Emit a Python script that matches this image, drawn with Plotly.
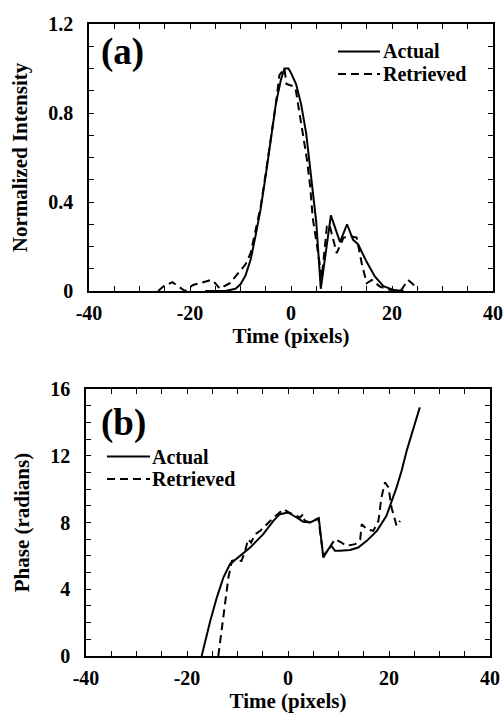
import plotly.graph_objects as go

# ---------------- data ----------------
# Panel (a): normalized intensity vs time (pixels)
a_actual_t = [-17, -13, -11, -10, -9, -8, -7, -6, -5, -4, -3, -2, -1.3, -0.5, 0, 1, 2, 3, 4, 5,
              5.9, 7.9, 9.7, 11.1, 12.3, 13.3, 15.0, 16.6, 18.3, 20.3, 22.3]
a_actual_i = [0, 0, 0.01, 0.03, 0.07, 0.14, 0.25, 0.37, 0.52, 0.68, 0.84, 0.95, 1.0, 1.0, 0.98, 0.93,
              0.84, 0.71, 0.52, 0.31, 0.01, 0.34, 0.22, 0.30, 0.23, 0.21, 0.13, 0.065, 0.022, 0.005, 0]

a_retr_t = [-26.3, -25.3, -23.5, -21, -19.4, -17.4, -15.7, -15.0, -14.1, -12.1, -10.4, -9, -8, -7, -6,
            -5, -4, -3, -2.3, -1.3, -0.9, 0.5, 0.9, 2.1, 3.1, 3.8, 4.3, 6.1, 6.4, 7.1, 7.6, 9.05,
            10.4, 12.0, 13.0, 14.0, 15.0, 16.0, 17.6, 19.6, 21.7, 23.2, 25.2]
a_retr_i = [0, 0.02, 0.04, 0, 0.027, 0.04, 0.05, 0.035, 0.01, 0.035, 0.08, 0.12, 0.17, 0.27, 0.38,
            0.53, 0.68, 0.84, 0.97, 1.0, 0.93, 0.92, 0.91, 0.73, 0.60, 0.47, 0.33, 0.06, 0.14, 0.29,
            0.30, 0.17, 0.24, 0.245, 0.24, 0.125, 0.035, 0.05, 0.02, 0.005, 0, 0.05, 0.01]

# Panel (b): phase (radians) vs time (pixels)
b_actual_t = [-17.1, -15.4, -14.1, -12.8, -11.5, -9.5, -7.5, -4.9, -2.9, -1.6, 0, 1.7, 3.0, 4.4, 6.1,
              7.0, 8.0, 8.6, 9.3, 10.3, 12.3, 13.9, 15.6, 17.6, 19.5, 21.5, 22.5, 23.5, 24.5, 25.3, 26.1]
b_actual_p = [0, 2.1, 3.5, 4.7, 5.5, 6.0, 6.5, 7.3, 8.1, 8.5, 8.6, 8.3, 8.05, 8.0, 8.25,
              5.9, 6.4, 6.6, 6.3, 6.3, 6.35, 6.5, 6.9, 7.5, 8.4, 10.1, 11.1, 12.3, 13.3, 14.1, 14.9]

b_retr_t = [-13.8, -12.8, -11.8, -11.1, -10.5, -9.2, -8.5, -7.9, -7.3, -6.5, -5.5, -3.5, -2, -0.9, 0.2,
            2.4, 3.0, 3.3, 4.4, 6.0, 7.0, 8.0, 9.3, 10.6, 11.5, 13.3, 14.3, 14.6, 15.6, 16.9, 17.9,
            18.5, 19.2, 19.9, 20.5, 21.5, 22.2]
b_retr_p = [0, 2.5, 4.7, 5.7, 5.75, 5.7, 6.3, 7.0, 6.8, 7.3, 7.5, 8.1, 8.5, 8.8, 8.6,
            8.3, 8.5, 8.1, 8.0, 8.25, 6.0, 6.4, 7.0, 6.8, 6.6, 6.7, 7.0, 7.9, 7.6, 7.5, 8.1,
            9.5, 10.4, 10.1, 8.9, 7.8, 8.1]

x_ticks = list(range(-40, 41, 5))
x_ticktext = [str(v) if v % 20 == 0 else "" for v in x_ticks]
a_yticks = [round(0.1 * k, 1) for k in range(0, 13)]
a_yticktext = ["0", "", "", "", "0.4", "", "", "", "0.8", "", "", "", "1.2"]
b_yticks = list(range(0, 17))
b_yticktext = [str(v) if v % 4 == 0 else "" for v in b_yticks]

series_names = ["Actual", "Retrieved"]
panel_labels = ["(a)", "(b)"]

# ---------------- figure ----------------
FONT = "Liberation Serif"
W, H = 504, 713
DASH = "8px,5px"
line_solid = dict(color="black", width=2)
line_dash = dict(color="black", width=2, dash=DASH)

fig = go.Figure()
fig.add_trace(go.Scatter(x=a_actual_t, y=a_actual_i, mode="lines", name=series_names[0],
                         line=line_solid, xaxis="x", yaxis="y"))
fig.add_trace(go.Scatter(x=a_retr_t, y=a_retr_i, mode="lines", name=series_names[1],
                         line=line_dash, xaxis="x", yaxis="y"))
fig.add_trace(go.Scatter(x=b_actual_t, y=b_actual_p, mode="lines", name=series_names[0],
                         line=line_solid, xaxis="x2", yaxis="y2"))
fig.add_trace(go.Scatter(x=b_retr_t, y=b_retr_p, mode="lines", name=series_names[1],
                         line=line_dash, xaxis="x2", yaxis="y2"))

tickfont = dict(family=FONT, size=20, color="black", weight="bold")
titlefont = dict(family=FONT, size=21, color="black", weight="bold")


def xax(domain, anchor, standoff):
    return dict(domain=domain, anchor=anchor, range=[-40, 40], tickmode="array",
                tickvals=x_ticks, ticktext=x_ticktext, ticks="inside", ticklen=5,
                tickwidth=1, tickcolor="black", showline=True, linewidth=1.5,
                linecolor="black", mirror="ticks", showgrid=False, zeroline=False,
                automargin=False, ticklabelstandoff=3, tickfont=tickfont,
                title=dict(text="Time (pixels)", font=titlefont, standoff=standoff))


def yax(domain, anchor, rng, tv, tt, title, standoff):
    return dict(domain=domain, anchor=anchor, range=rng, tickmode="array",
                tickvals=tv, ticktext=tt, ticks="inside", ticklen=5, tickwidth=1,
                tickcolor="black", showline=True, linewidth=1.5, linecolor="black",
                mirror="ticks", showgrid=False, zeroline=False, automargin=False,
                ticklabelstandoff=10, tickfont=tickfont,
                title=dict(text=title, font=titlefont, standoff=standoff))


legfont = dict(family=FONT, size=20, color="black", weight="bold")
labfont = dict(family=FONT, size=37, color="black", weight="bold")

# hand-drawn legends (sample line + label) to match the tight original layout
legend_specs = [
    # (x0, x1, y_solid, y_dash, text_x) in pixels
    (338, 380, 51.5, 74.0, 382),
    (107, 150, 456.5, 479.0, 151),
]
shapes = []
annotations = []
for x0, x1, ys, yd, tx in legend_specs:
    shapes.append(dict(type="line", xref="paper", yref="paper", x0=x0 / W, x1=x1 / W,
                       y0=1 - ys / H, y1=1 - ys / H, line=dict(color="black", width=2)))
    shapes.append(dict(type="line", xref="paper", yref="paper", x0=x0 / W, x1=x1 / W,
                       y0=1 - yd / H, y1=1 - yd / H,
                       line=dict(color="black", width=2, dash=DASH)))
    for name, yy in zip(series_names, (ys, yd)):
        annotations.append(dict(text=name, x=tx / W, y=1 - yy / H, xref="paper", yref="paper",
                                xanchor="left", yanchor="middle", showarrow=False,
                                borderpad=0, font=legfont))

annotations.append(dict(text=panel_labels[0], x=122 / W, y=1 - 52 / H, xref="paper",
                        yref="paper", xanchor="center", yanchor="middle", showarrow=False,
                        font=labfont))
annotations.append(dict(text=panel_labels[1], x=123 / W, y=1 - 423 / H, xref="paper",
                        yref="paper", xanchor="center", yanchor="middle", showarrow=False,
                        font=labfont))

fig.update_layout(
    width=W, height=H,
    margin=dict(l=0, r=0, t=0, b=0),
    paper_bgcolor="white", plot_bgcolor="white",
    showlegend=False,
    xaxis=xax([89 / W, 493 / W], "y", 3),
    yaxis=yax([1 - 291 / H, 1 - 24 / H], "x", [0, 1.2], a_yticks, a_yticktext,
              "Normalized Intensity", 15),
    xaxis2=xax([86 / W, 490 / W], "y2", 4),
    yaxis2=yax([1 - 656 / H, 1 - 389 / H], "x2", [0, 16], b_yticks, b_yticktext,
               "Phase (radians)", 15),
    shapes=shapes,
    annotations=annotations,
)

fig.write_html("out.html")
